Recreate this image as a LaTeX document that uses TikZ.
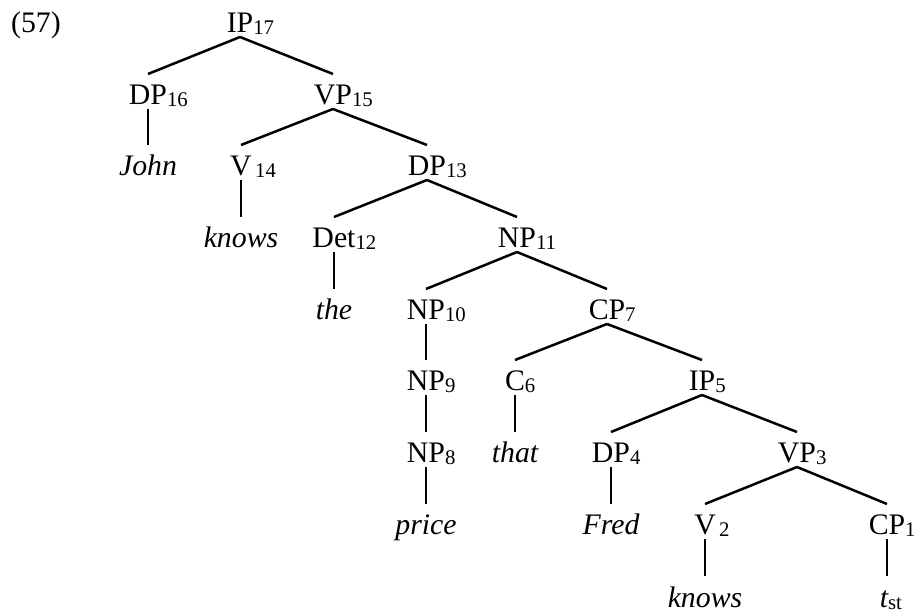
\documentclass[tikz,border=0pt]{standalone}
\usepackage{fontspec}
\setmainfont{Liberation Serif}

% index after a category, kept out of the node width
\newcommand{\ix}[1]{\rlap{\raisebox{-1pt}{\fontsize{10.4}{11}\selectfont #1}}}

\begin{document}
\begin{tikzpicture}[x=0.5pt,y=-0.5pt,
  cat/.style={anchor=base,inner sep=0pt,outer sep=0pt,text height=15.5pt,text depth=2pt,font=\fontsize{14.9}{17}\selectfont},
  word/.style={cat,font=\fontsize{14.9}{17}\selectfont\itshape},
  br/.style={line width=1.25pt}]
\useasboundingbox (0,0) rectangle (914,613);
\node[cat] (ex) at (36,33) {(57)};
% row 0 to 8
\node[cat] (ip17) at (240,33) {IP\ix{17}};
\node[cat] (dp16) at (148,105) {DP\ix{16}};
\node[cat] (vp15) at (333,105) {VP\ix{15}};
\node[word] (john) at (148,176) {John};
\node[cat] (v14) at (241,176) {V\ix{\,14}};
\node[cat] (dp13) at (427,176) {DP\ix{13}};
\node[word] (knowsA) at (241,248) {knows};
\node[cat] (det12) at (334,248) {Det\ix{12}};
\node[cat] (np11) at (517,248) {NP\ix{11}};
\node[word] (the) at (334,320) {the};
\node[cat] (np10) at (426,320) {NP\ix{10}};
\node[cat] (cp7) at (607,320) {CP\ix{7}};
\node[cat] (np9) at (426,391) {NP\ix{9}};
\node[cat] (c6) at (515,391) {C\ix{6}};
\node[cat] (ip5) at (702,391) {IP\ix{5}};
\node[cat] (np8) at (426,463) {NP\ix{8}};
\node[word] (that) at (515,463) {that};
\node[cat] (dp4) at (611,463) {DP\ix{4}};
\node[cat] (vp3) at (797,463) {VP\ix{3}};
\node[word] (price) at (426,535) {price};
\node[word] (fred) at (611,535) {Fred};
\node[cat] (v2) at (705,535) {V\ix{\,2}};
\node[cat] (cp1) at (887,535) {CP\ix{1}};
\node[word] (knowsB) at (705,607) {knows};
\node[word] (tst) at (884,607) {t\ix{\upshape st}};
% branches
\foreach \p/\c in {ip17/dp16,ip17/vp15,dp16/john,vp15/v14,vp15/dp13,
  v14/knowsA,dp13/det12,dp13/np11,det12/the,np11/np10,np11/cp7,
  np10/np9,cp7/c6,cp7/ip5,np9/np8,c6/that,ip5/dp4,ip5/vp3,
  np8/price,dp4/fred,vp3/v2,vp3/cp1,v2/knowsB}
  \draw[br] (\p.south) -- (\c.north);
\draw[br] (cp1.south) -- (cp1.south |- tst.north);
\end{tikzpicture}
\end{document}
